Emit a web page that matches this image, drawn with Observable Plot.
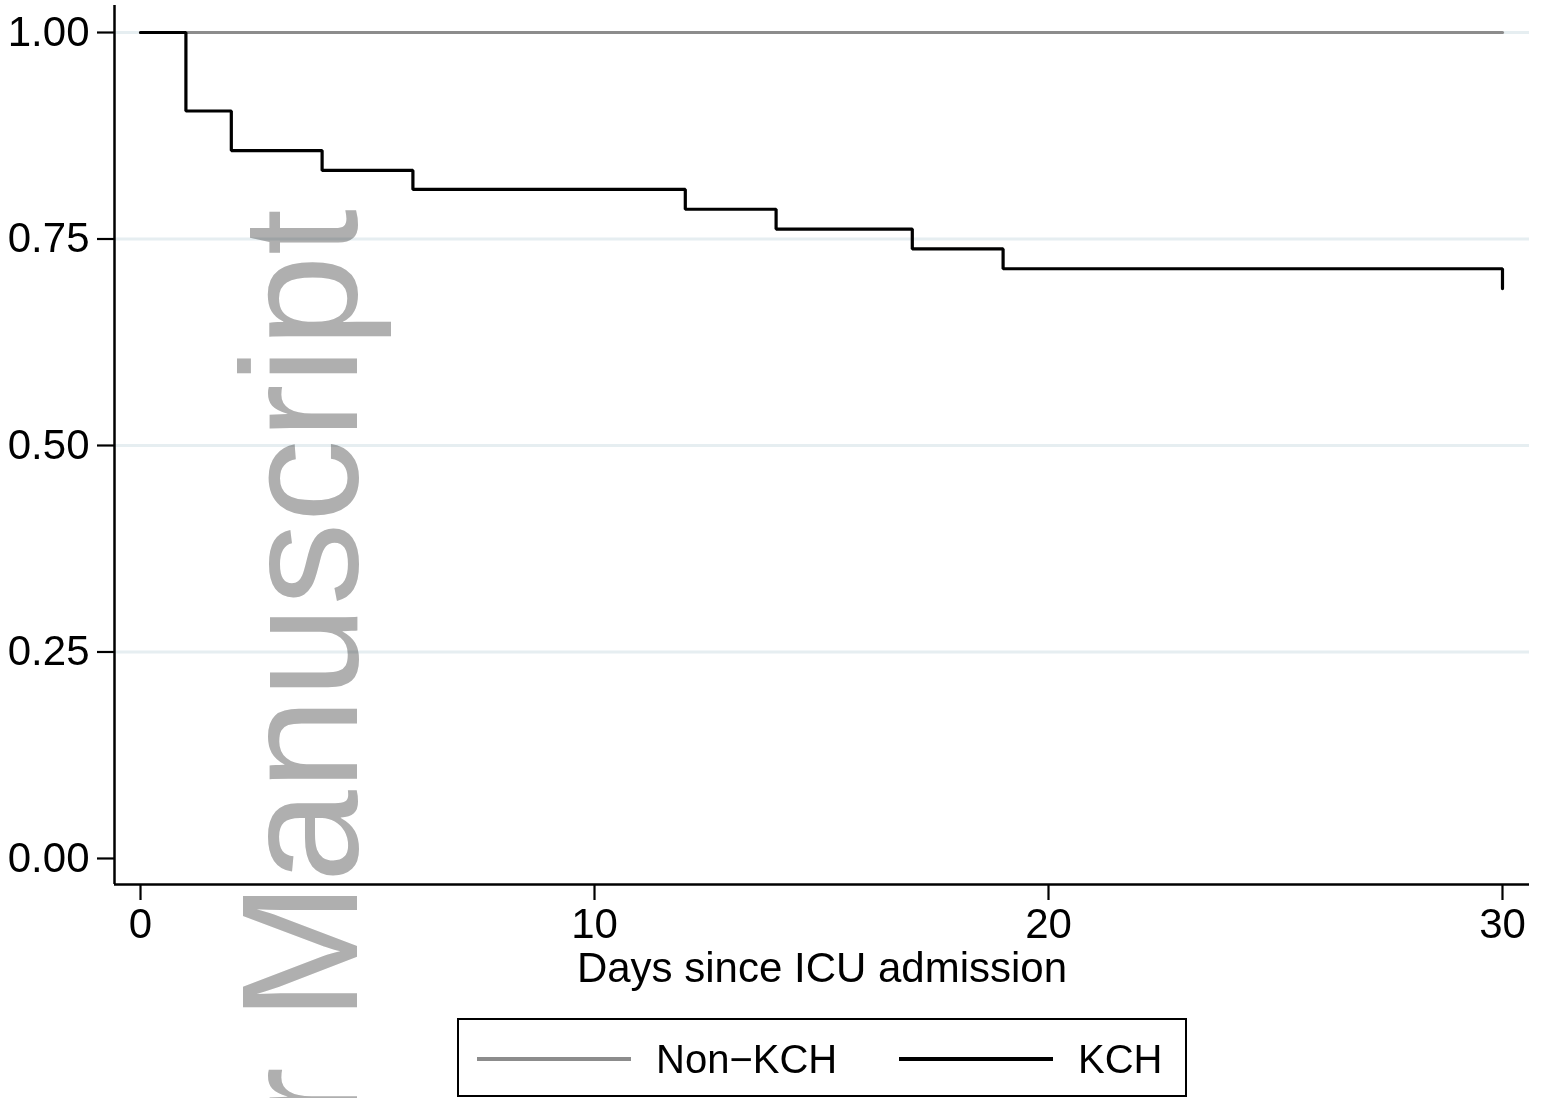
<!DOCTYPE html>
<html>
<head>
<meta charset="utf-8">
<script src="https://cdn.jsdelivr.net/npm/d3@7"></script>
<script src="https://cdn.jsdelivr.net/npm/@observablehq/plot@0.6"></script>
<style>
  html, body { margin: 0; padding: 0; background: #fff; }
  body { width: 1541px; height: 1098px; overflow: hidden; font-family: "Liberation Sans", Arial, Helvetica, sans-serif; }
  #wrap { position: relative; width: 1541px; height: 1098px; }
  #chart svg { display: block; }
  #chart [aria-label="x-axis tick"] path, #chart [aria-label="y-axis tick"] path { stroke-width: 2.2; }
  #legend { position: absolute; left: 457px; top: 1018px; width: 726px; height: 75px; border: 2px solid #000; box-sizing: content-box; background: #fff; }
  .sw { position: absolute; height: 4px; top: 37px; }
  .lt { position: absolute; top: 16px; font-size: 40px; line-height: 46px; color: #000; white-space: nowrap; }
  #wm { position: absolute; left: 0; top: 0; pointer-events: none; mix-blend-mode: multiply; }
</style>
</head>
<body>
<div id="wrap">
  <div id="chart"></div>
  <div id="legend"></div>
  <svg id="wm" width="1541" height="1098"></svg>
</div>
<script>
// ---- data ----
const groups = ["Non\u2212KCH", "KCH"];
const nonKchDays = [0, 30];
const nonKchSurv = [1.0, 1.0];
const kchDays = [0, 1, 2, 4, 6, 12, 14, 17, 19, 30];
const kchSurv = [1.0, 0.905, 0.857, 0.833, 0.810, 0.786, 0.762, 0.738, 0.714, 0.690];
const xTicks = [0, 10, 20, 30];
const yTicks = [0, 0.25, 0.5, 0.75, 1.0];
const gridValues = [0.25, 0.5, 0.75, 1.0];
const xTitle = "Days since ICU admission";
const watermark = "Author Manuscript";

// ---- styles/config ----
const colors = { "Non\u2212KCH": "#8c8c8c", "KCH": "#000000" };
const xDomain = [-0.573, 30.595];
const yDomain = [-0.0315, 1.0327];

const nonKch = nonKchDays.map((d, i) => ({ day: d, surv: nonKchSurv[i], group: groups[0] }));
const kch = kchDays.map((d, i) => ({ day: d, surv: kchSurv[i], group: groups[1] }));

const chart = Plot.plot({
  width: 1541,
  height: 1098,
  marginLeft: 114,
  marginRight: 12,
  marginTop: 5,
  marginBottom: 214,
  style: { fontFamily: "'Liberation Sans', Arial, Helvetica, sans-serif", fontSize: "42px", color: "#000", background: "#fff", overflow: "visible" },
  x: {
    domain: xDomain,
    ticks: xTicks,
    tickSize: 16,
    tickPadding: 8,
    tickFormat: d3.format("d"),
    label: xTitle,
    labelAnchor: "center",
    labelArrow: "none",
    labelOffset: 97
  },
  y: {
    domain: yDomain,
    ticks: yTicks,
    tickSize: 17,
    tickPadding: 8,
    tickFormat: d3.format(".2f"),
    label: null
  },
  marks: [
    Plot.ruleY(gridValues, { stroke: "#e6eef1", strokeWidth: 3 }),
    Plot.ruleX([xDomain[0]], { stroke: "#000", strokeWidth: 2.5 }),
    Plot.ruleY([yDomain[0]], { stroke: "#000", strokeWidth: 2.5 }),
    Plot.line(nonKch, { x: "day", y: "surv", stroke: colors[groups[0]], strokeWidth: 3.2, curve: "step-after", strokeLinecap: "round" }),
    Plot.line(kch, { x: "day", y: "surv", stroke: colors[groups[1]], strokeWidth: 3.2, curve: "step-after", strokeLinecap: "round", strokeLinejoin: "miter" })
  ]
});
document.getElementById("chart").appendChild(chart);

// ---- legend ----
const legend = document.getElementById("legend");
const legendLayout = [
  { sw: 18, txt: 197 },
  { sw: 440, txt: 619 }
];
groups.forEach((g, i) => {
  const s = document.createElement("div");
  s.className = "sw";
  s.style.left = legendLayout[i].sw + "px";
  s.style.width = "154px";
  s.style.background = colors[g];
  legend.appendChild(s);
  const t = document.createElement("div");
  t.className = "lt";
  t.style.left = legendLayout[i].txt + "px";
  t.textContent = g;
  legend.appendChild(t);
});

// ---- watermark ----
const wm = d3.select("#wm");
wm.append("text")
  .attr("transform", "translate(357,209) rotate(-90)")
  .attr("text-anchor", "end")
  .attr("font-family", "'Liberation Sans', Arial, Helvetica, sans-serif")
  .attr("font-size", 166)
  .attr("fill", "#afafaf")
  .text(watermark);
</script>
</body>
</html>
